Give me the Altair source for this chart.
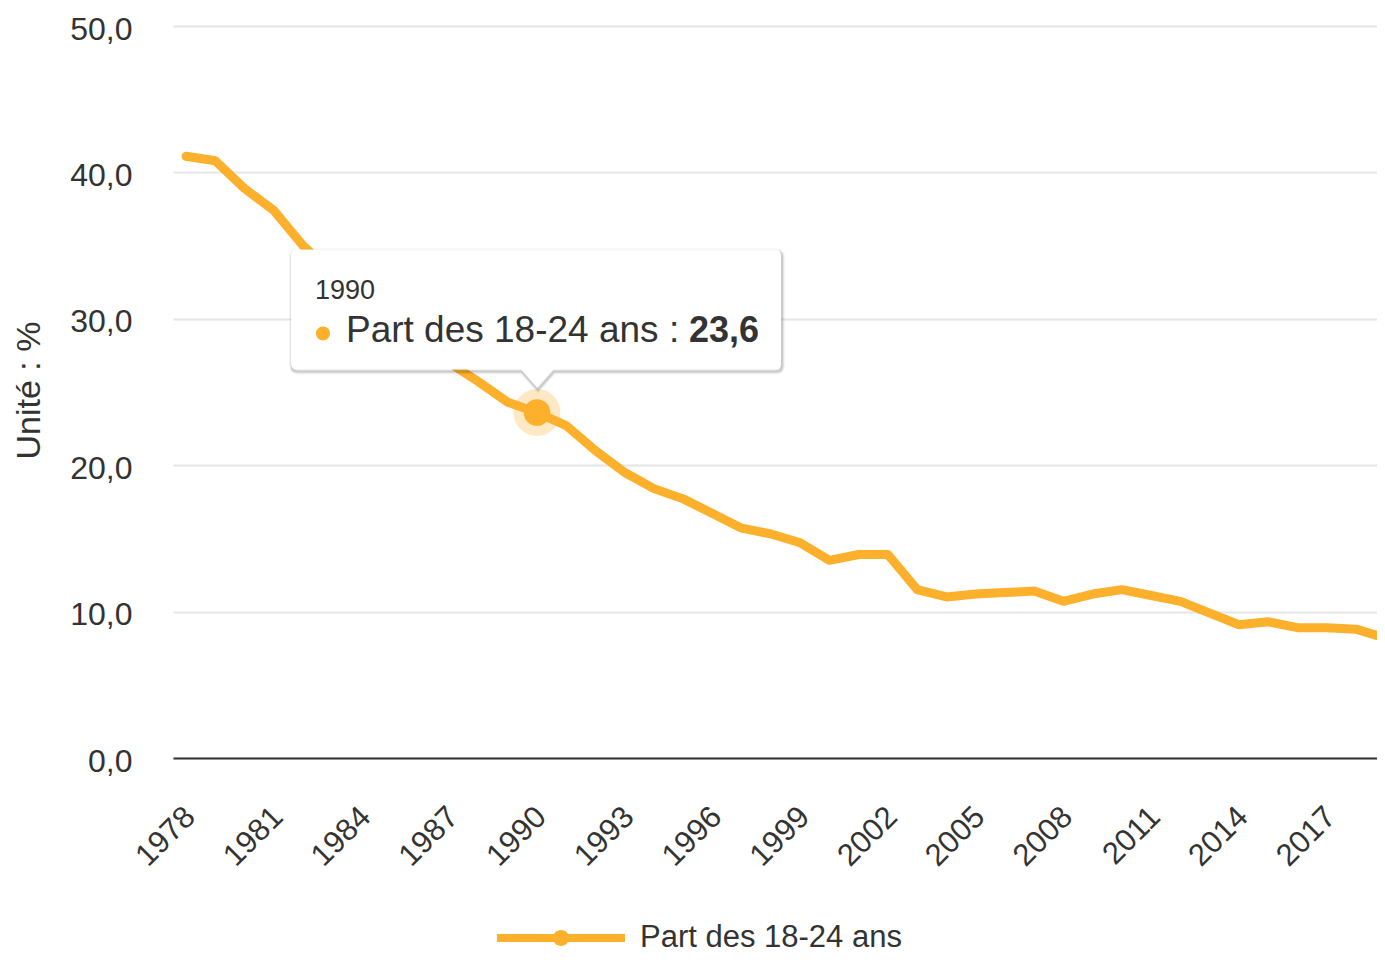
import altair as alt
import pandas as pd

# ---------------- data ----------------
years = list(range(1978, 2020))
values = [41.1, 40.8, 38.9, 37.4, 35.0, 33.2, 31.5, 29.9, 28.4, 27.0,
          25.7, 24.3, 23.6, 22.7, 21.0, 19.5, 18.4, 17.7, 16.7, 15.7,
          15.3, 14.7, 13.5, 13.9, 13.9, 11.5, 11.0, 11.2, 11.3, 11.4,
          10.7, 11.2, 11.5, 11.1, 10.7, 9.9, 9.1, 9.3, 8.9, 8.9,
          8.8, 8.2]
series_name = "Part des 18-24 ans"
hover_year = 1990
y_ticks = [0, 10, 20, 30, 40, 50]
x_ticks = list(range(1978, 2018, 3))

# ---------------- style ----------------
ORANGE = "#fdb02c"
TXT = "#333333"
FONT = "Liberation Sans"

df = pd.DataFrame({"annee": years, "part": values, "serie": series_name})

x_scale = alt.Scale(domain=[1977.556, 2018.72], nice=False, zero=False)
y_scale = alt.Scale(domain=[0, 50], nice=False, zero=True)

x_axis = alt.Axis(values=x_ticks, format="d", labelAngle=315, labelAlign="right",
                  labelBaseline="middle", labelPadding=54, labelOffset=4,
                  labelFontSize=31, labelColor=TXT, labelFont=FONT, grid=False,
                  ticks=False, domain=True, domainColor="#333333", domainWidth=2,
                  title=None, labelOverlap=False)
y_axis = alt.Axis(values=y_ticks, labelExpr="replace(format(datum.value, '.1f'), '.', ',')",
                  labelFontSize=32, labelColor=TXT, labelFont=FONT, labelPadding=41,
                  labelOffset=3,
                  ticks=False, tickSize=0, domain=False, grid=True, gridColor="#e6e6e6",
                  gridWidth=2, title="Unité : %", titleFontSize=34, titleFont=FONT,
                  titleFontWeight="normal", titleColor=TXT, titleAngle=270,
                  titleX=-134, titleY=364, titleAlign="center", titleBaseline="alphabetic")

base = alt.Chart(df)

line = base.mark_line(color=ORANGE, strokeWidth=9, clip=True, strokeCap="round",
                      strokeJoin="round").encode(
    x=alt.X("annee:Q", scale=x_scale, axis=x_axis),
    y=alt.Y("part:Q", scale=y_scale, axis=y_axis),
)

hover = base.transform_filter(alt.datum.annee == hover_year).transform_calculate(
    lab_year="toString(datum.annee)",
    lab_name="datum.serie + ' : '",
    lab_val="replace(format(datum.part, '.1f'), '.', ',')",
)
hx = alt.X("annee:Q", scale=x_scale)
hy = alt.Y("part:Q", scale=y_scale)

halo = hover.mark_circle(size=2200, opacity=0.28, color=ORANGE).encode(x=hx, y=hy)

legend_path = ("M -1,-0.0625 L 1,-0.0625 L 1,0.0625 L -1,0.0625 Z "
               "M 0.125,0 A 0.125,0.125 0 1,1 -0.125,0 A 0.125,0.125 0 1,1 0.125,0 Z")

point = hover.mark_circle(size=707, opacity=1).encode(
    x=hx, y=hy,
    color=alt.Color("serie:N", scale=alt.Scale(range=[ORANGE]),
                    legend=alt.Legend(title=None, orient="none", legendX=324, legendY=848,
                                      symbolType=legend_path, symbolSize=16384,
                                      symbolFillColor=ORANGE, symbolStrokeWidth=0,
                                      symbolOpacity=1, labelLimit=1000,
                                      labelFontSize=31, labelColor=TXT, labelFont=FONT,
                                      labelOffset=15, padding=0)),
)

# tooltip box shape (relative to hovered point, pixels / S)
S = 250.0
Lb, Rb, Tb, Bb, rr = -246, 244, -163, -43, 6
pts = [
    ("M", Lb + rr, Tb), ("L", Rb - rr, Tb), ("Q", Rb, Tb, Rb, Tb + rr),
    ("L", Rb, Bb - rr), ("Q", Rb, Bb, Rb - rr, Bb), ("L", 16, Bb), ("L", 0, -25),
    ("L", -16, Bb), ("L", Lb + rr, Bb), ("Q", Lb, Bb, Lb, Bb - rr),
    ("L", Lb, Tb + rr), ("Q", Lb, Tb, Lb + rr, Tb),
]
parts = []
for p in pts:
    cmd = p[0]
    coords = p[1:]
    nums = " ".join(f"{coords[i]/S:.4f},{coords[i+1]/S:.4f}" for i in range(0, len(coords), 2))
    parts.append(f"{cmd} {nums}")
box_path = " ".join(parts) + " Z"
box_size = (2 * S) ** 2

shadows = [
    hover.mark_point(shape=box_path, size=box_size, filled=False, stroke="black",
                     strokeOpacity=op, strokeWidth=w, opacity=1, xOffset=1, yOffset=2)
    .encode(x=hx, y=hy)
    for op, w in [(0.04, 6), (0.07, 4), (0.1, 2)]
]
box = hover.mark_point(shape=box_path, size=box_size, filled=True, fill="white",
                       fillOpacity=1, opacity=1, strokeWidth=0).encode(x=hx, y=hy)

t_year = hover.mark_text(align="left", baseline="alphabetic", dx=-222, dy=-113,
                         fontSize=27, color=TXT, font=FONT).encode(
    x=hx, y=hy, text="lab_year:N")
t_dot = hover.mark_circle(size=200, opacity=1, color=ORANGE, xOffset=-214,
                          yOffset=-79).encode(x=hx, y=hy)
t_name = hover.mark_text(align="left", baseline="alphabetic", dx=-191, dy=-70,
                         fontSize=37, color=TXT, font=FONT).encode(
    x=hx, y=hy, text="lab_name:N")
t_val = hover.mark_text(align="left", baseline="alphabetic", dx=152, dy=-70,
                        fontSize=36, color=TXT, font=FONT, fontWeight="bold").encode(
    x=hx, y=hy, text="lab_val:N")

chart = alt.layer(line, halo, point, *shadows, box, t_year, t_dot, t_name, t_val).properties(
    width=1204, height=732,
    padding={"left": 165, "top": 18, "right": 0, "bottom": 196},
    autosize=alt.AutoSizeParams(type="none"),
    background="white",
).configure_view(stroke=None)

chart.save("out.html", embed_options={"renderer": "svg", "actions": False})
